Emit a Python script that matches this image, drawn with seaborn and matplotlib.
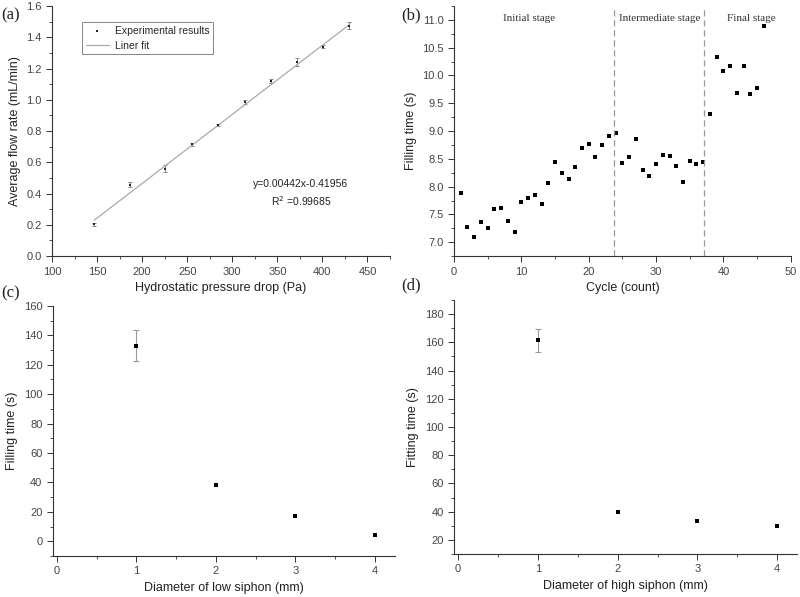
import numpy as np
import pandas as pd
import seaborn as sns
import matplotlib
matplotlib.use('Agg')
import matplotlib.pyplot as plt
from matplotlib.ticker import MultipleLocator

# (a) flow rate vs pressure drop
pressure = [147, 186, 225, 255, 284, 314, 343, 372, 401, 430]
flow = [0.205, 0.458, 0.56, 0.715, 0.84, 0.985, 1.12, 1.24, 1.34, 1.475]
flow_err = [0.01, 0.015, 0.025, 0.008, 0.008, 0.015, 0.01, 0.025, 0.008, 0.02]
fit_slope = 0.00442
fit_intercept = -0.41956
fit_r2 = 0.99685

# (b) filling time per cycle
cycles = list(range(1, 47))
fill_time = [7.88, 7.27, 7.09, 7.36, 7.25, 7.60, 7.62, 7.38, 7.18, 7.72,
             7.79, 7.85, 7.68, 8.06, 8.45, 8.24, 8.13, 8.35, 8.70, 8.76,
             8.54, 8.74, 8.91, 8.96, 8.42, 8.54, 8.86, 8.30, 8.19, 8.41,
             8.57, 8.55, 8.38, 8.09, 8.47, 8.40, 8.45, 9.30, 10.34, 10.08,
             10.17, 9.68, 10.17, 9.66, 9.78, 10.89]
stage_bounds = [23.8, 37.1]
stage_names = ['Initial stage', 'Intermediate stage', 'Final stage']
stage_pos = [11.2, 30.6, 44.2]

# (c) low siphon diameter
low_d = [1, 2, 3, 4]
low_t = [133, 38.5, 17.5, 4.5]
low_err = [10.5, 0, 0, 0]

# (d) high siphon diameter
high_d = [1, 2, 3, 4]
high_t = [161.5, 39.5, 33.5, 30]
high_err = [8, 0, 0, 0]

sns.set_style('ticks')
plt.rcParams['font.family'] = ['Liberation Sans', 'DejaVu Sans']
plt.rcParams['xtick.direction'] = 'out'
plt.rcParams['ytick.direction'] = 'out'

fig = plt.figure(figsize=(8, 5.97), dpi=100)
ax_a = fig.add_axes([0.065, 0.571, 0.4225, 0.419])
ax_b = fig.add_axes([0.5675, 0.571, 0.421, 0.419])
ax_c = fig.add_axes([0.066, 0.0687, 0.4275, 0.419])
ax_d = fig.add_axes([0.5675, 0.072, 0.429, 0.4255])

grey = '#333333'
tick_col = '#444444'


def style(ax):
    sns.despine(ax=ax)
    for s in ['left', 'bottom']:
        ax.spines[s].set_color(grey)
        ax.spines[s].set_linewidth(0.8)
    ax.tick_params(which='major', length=4, width=0.7, colors=grey, labelsize=8,
                   labelcolor=tick_col)
    ax.tick_params(which='minor', length=2.5, width=0.6, colors=grey)


# panel a
df_a = pd.DataFrame({'p': pressure, 'q': flow, 'e': flow_err})
ax_a.errorbar(df_a['p'], df_a['q'], yerr=df_a['e'], fmt='none', ecolor='#888888',
              elinewidth=0.7, capsize=1.5, capthick=0.7)
fit_x = np.array([pressure[0], pressure[-1]])
sns.lineplot(x=fit_x, y=fit_slope * fit_x + fit_intercept, ax=ax_a, color='#aaaaaa',
             linewidth=0.9, label='Liner fit')
sns.scatterplot(data=df_a, x='p', y='q', ax=ax_a, color='#222222', marker='s', s=3,
                linewidth=0, label='Experimental results', zorder=5)
h, l = ax_a.get_legend_handles_labels()
leg = ax_a.legend(h[::-1], l[::-1], loc='upper left', bbox_to_anchor=(0.074, 0.955),
                  fontsize=7.5, frameon=True, fancybox=False, edgecolor='#666666',
                  handlelength=2.2, borderpad=0.35, labelspacing=0.45,
                  handletextpad=0.6, markerscale=0.8)
leg.get_frame().set_linewidth(0.7)
ax_a.set_xlim(100, 475)
ax_a.set_ylim(0, 1.6)
ax_a.xaxis.set_major_locator(MultipleLocator(50))
ax_a.xaxis.set_minor_locator(MultipleLocator(25))
ax_a.yaxis.set_major_locator(MultipleLocator(0.2))
ax_a.yaxis.set_minor_locator(MultipleLocator(0.1))
ax_a.yaxis.set_major_formatter(plt.FormatStrFormatter('%.1f'))
ax_a.set_xlabel('Hydrostatic pressure drop (Pa)', fontsize=9, color='#222222')
ax_a.set_ylabel('Average flow rate (mL/min)', fontsize=9, color='#222222')
ax_a.text(376, 0.463, 'y=0.00442x-0.41956', ha='center', va='center', fontsize=7.5,
          color='#222222')
ax_a.text(376, 0.353, 'R$^2$ =%.5f' % fit_r2, ha='center', va='center', fontsize=7.5,
          color='#222222')
style(ax_a)

# panel b
sns.scatterplot(x=cycles, y=fill_time, ax=ax_b, color='black', marker='s', s=9,
                linewidth=0)
for xb in stage_bounds:
    ax_b.axvline(xb, color='#999999', linestyle=(0, (5, 3)), linewidth=0.9)
for name, xp in zip(stage_names, stage_pos):
    ax_b.text(xp, 11.02, name, ha='center', va='center', fontsize=8,
              family=['Liberation Serif'], color='#333333')
ax_b.set_xlim(0, 50)
ax_b.set_ylim(6.75, 11.25)
ax_b.xaxis.set_major_locator(MultipleLocator(10))
ax_b.xaxis.set_minor_locator(MultipleLocator(5))
ax_b.yaxis.set_major_locator(MultipleLocator(0.5))
ax_b.yaxis.set_minor_locator(MultipleLocator(0.25))
ax_b.yaxis.set_major_formatter(plt.FormatStrFormatter('%.1f'))
ax_b.set_xlabel('Cycle (count)', fontsize=9, color='#222222')
ax_b.set_ylabel('Filling time (s)', fontsize=9, color='#222222')
style(ax_b)

# panel c
ax_c.errorbar(low_d[:1], low_t[:1], yerr=low_err[:1], fmt='none', ecolor='#999999',
              elinewidth=0.8, capsize=2.5, capthick=0.8)
sns.scatterplot(x=low_d, y=low_t, ax=ax_c, color='black', marker='s', s=9,
                linewidth=0, zorder=5)
ax_c.set_xlim(-0.05, 4.25)
ax_c.set_ylim(-10, 160)
ax_c.xaxis.set_major_locator(MultipleLocator(1))
ax_c.xaxis.set_minor_locator(MultipleLocator(0.5))
ax_c.yaxis.set_major_locator(MultipleLocator(20))
ax_c.yaxis.set_minor_locator(MultipleLocator(10))
ax_c.set_xlabel('Diameter of low siphon (mm)', fontsize=9, color='#222222')
ax_c.set_ylabel('Filling time (s)', fontsize=9, color='#222222')
style(ax_c)

# panel d
ax_d.errorbar(high_d[:1], high_t[:1], yerr=high_err[:1], fmt='none', ecolor='#999999',
              elinewidth=0.8, capsize=2.5, capthick=0.8)
sns.scatterplot(x=high_d, y=high_t, ax=ax_d, color='black', marker='s', s=9,
                linewidth=0, zorder=5)
ax_d.set_xlim(-0.05, 4.25)
ax_d.set_ylim(10, 190)
ax_d.xaxis.set_major_locator(MultipleLocator(1))
ax_d.xaxis.set_minor_locator(MultipleLocator(0.5))
ax_d.yaxis.set_major_locator(MultipleLocator(20))
ax_d.yaxis.set_minor_locator(MultipleLocator(10))
ax_d.set_yticks(range(20, 181, 20))
ax_d.set_xlabel('Diameter of high siphon (mm)', fontsize=9, color='#222222')
ax_d.set_ylabel('Fitting time (s)', fontsize=9, color='#222222')
style(ax_d)

# panel letters
for txt, x, y in [('(a)', 0.002, 0.974), ('(b)', 0.502, 0.974),
                  ('(c)', 0.002, 0.508), ('(d)', 0.502, 0.522)]:
    fig.text(x, y, txt, fontsize=12, family=['Liberation Serif'], va='center',
             color='#222222')

fig.savefig('out.png', dpi=100)
